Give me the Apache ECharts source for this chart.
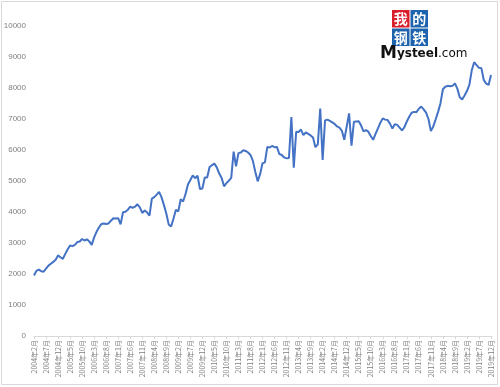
<!DOCTYPE html>
<html>
<head>
<meta charset="utf-8">
<script src="https://cdn.jsdelivr.net/npm/echarts@6/dist/echarts.min.js"></script>
<style>
  html, body { margin: 0; padding: 0; background: #fff; }
  #chart { width: 500px; height: 387px; }
</style>
</head>
<body>
<div id="chart"></div>
<script>
'use strict';

// 月份：2004年2月 - 2019年12月
var startYear = 2004, startMonth = 2, monthCount = 191;
var months = [];
for (var i = 0; i < monthCount; i++) {
  var m = startMonth - 1 + i;
  months.push((startYear + Math.floor(m / 12)) + '年' + (m % 12 + 1) + '月');
}

var values = [
  1950, 2100, 2140, 2090, 2075, 2170, 2270, 2330, 2390, 2460,
  2600, 2540, 2490, 2650, 2800, 2920, 2900, 2940, 3030, 3050,
  3130, 3080, 3120, 3050, 2940, 3180, 3360, 3500, 3610, 3630,
  3610, 3630, 3720, 3800, 3790, 3800, 3600, 3990, 4010, 4070,
  4170, 4130, 4170, 4250, 4150, 3970, 4050, 3990, 3880, 4430,
  4480, 4560, 4650, 4480, 4230, 3950, 3600, 3530, 3790, 4070,
  4020, 4410, 4340, 4580, 4890, 5030, 5180, 5090, 5170, 4740,
  4760, 5110, 5110, 5450, 5510, 5560, 5440, 5240, 5100, 4830,
  4930, 5010, 5100, 5950, 5470, 5900, 5920, 5990, 5970, 5920,
  5840, 5650, 5300, 4990, 5220, 5570, 5600, 6100, 6080, 6130,
  6090, 6100, 5870, 5840, 5760, 5730, 5740, 7060, 5430, 6590,
  6580, 6660, 6480, 6570, 6520, 6470, 6400, 6090, 6180, 7340,
  5680, 6950, 6980, 6940, 6890, 6840, 6760, 6720, 6620, 6330,
  6750, 7180, 6140, 6910, 6920, 6930, 6790, 6600, 6640, 6590,
  6450, 6330, 6520, 6700, 6880, 7020, 6980, 6970, 6850, 6690,
  6830, 6810, 6720, 6630, 6740, 6920, 7070, 7200, 7230, 7220,
  7330, 7400, 7310, 7205, 7000, 6610, 6760, 6990, 7230, 7510,
  7960, 8040, 8070, 8060, 8070, 8150, 7980, 7700, 7630, 7760,
  7900, 8100, 8570, 8830, 8740, 8650, 8640, 8260, 8140, 8100,
  8420
];

var logoChars = ['我', '的', '钢', '铁'];
var logoColors = ['#d9202a', '#1e63ad', '#1e63ad', '#1e63ad'];

var logo = [];
logoChars.forEach(function (ch, k) {
  var x = 392 + (k % 2) * 18.5;
  var y = 10 + Math.floor(k / 2) * 18.5;
  logo.push({
    type: 'rect', shape: { x: x, y: y, width: 17.5, height: 17.5 },
    style: { fill: logoColors[k] }
  });
  logo.push({
    type: 'text', x: x + 8.75, y: y + 9,
    style: {
      text: ch, fill: '#fff', font: 'bold 14px "Noto Sans CJK SC"',
      align: 'center', verticalAlign: 'middle'
    }
  });
});
logo.push({
  type: 'text', x: 380, y: 54,
  style: {
    text: '{m|M}{a|ysteel}{b|.com}',
    verticalAlign: 'middle',
    rich: {
      m: { font: 'bold 17px "DejaVu Sans"', fill: '#111' },
      a: { font: 'bold 12px "DejaVu Sans"', fill: '#111' },
      b: { font: '12px "DejaVu Sans"', fill: '#111' }
    }
  }
});

var myChart = echarts.init(document.getElementById('chart'));

myChart.setOption({
  animation: false,
  backgroundColor: '#fff',
  grid: { left: 34, right: 9, top: 26, bottom: 51, containLabel: false },
  xAxis: {
    type: 'category',
    data: months,
    boundaryGap: false,
    axisLine: { lineStyle: { color: '#d9d9d9', width: 1 } },
    axisTick: { show: true, interval: 4, length: 3, lineStyle: { color: '#d9d9d9' } },
    axisLabel: {
      interval: 4, rotate: 90, margin: 4,
      color: '#7f7f7f', fontSize: 7, fontFamily: 'Noto Sans CJK SC'
    },
    splitLine: { show: false }
  },
  yAxis: {
    type: 'value',
    min: 0, max: 10000, interval: 1000,
    axisLine: { show: false },
    axisTick: { show: false },
    axisLabel: {
      color: '#7f7f7f', fontSize: 8, margin: 8, fontFamily: 'Liberation Sans',
      formatter: function (v) { return String(v); }
    },
    splitLine: { show: false }
  },
  series: [{
    type: 'line',
    data: values,
    showSymbol: false,
    lineStyle: { color: '#4472c4', width: 2 },
    itemStyle: { color: '#4472c4' }
  }],
  graphic: [{
    type: 'rect', shape: { x: 1.5, y: 1.5, width: 496, height: 383 },
    style: { fill: null, stroke: '#d9d9d9', lineWidth: 1 }, z: -1
  }].concat(logo)
});
</script>
</body>
</html>
